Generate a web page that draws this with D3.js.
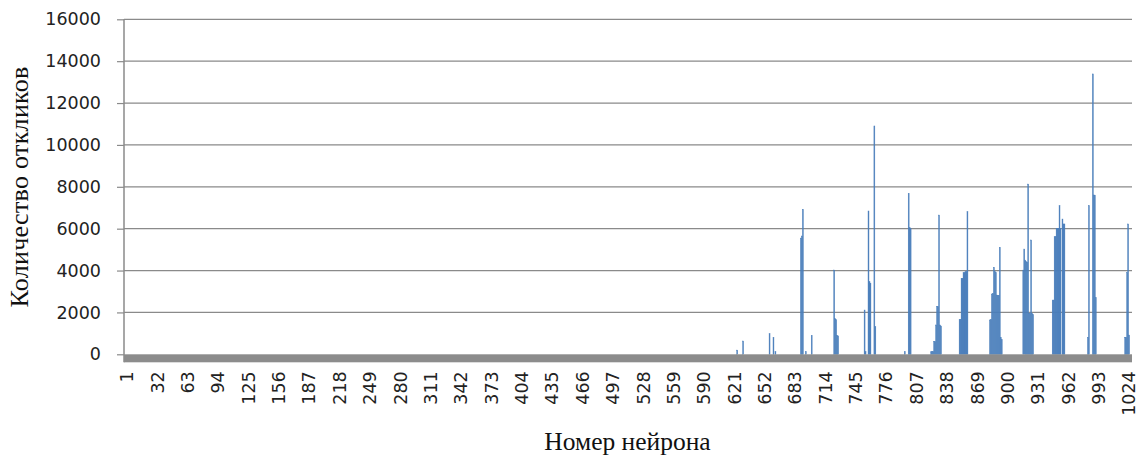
<!DOCTYPE html>
<html>
<head>
<meta charset="utf-8">
<script src="https://cdn.jsdelivr.net/npm/d3@7"></script>
<style>
  html, body { margin: 0; padding: 0; background: #fff; }
  svg { display: block; }
</style>
</head>
<body>
<svg id="chart" width="1142" height="455"></svg>
<script>
// ---- data ----
const categories = d3.range(1, 1025);            // neuron numbers 1..1024
const activeNeurons = [
  624, 630, 657, 661, 663,
  689, 690, 691, 694, 700,
  723, 724, 725, 726, 727,
  754, 755, 758, 759, 760, 764, 765,
  795, 799, 800, 801,
  822, 823, 824, 825, 826, 827, 828, 829, 830, 831, 832,
  851, 852, 853, 854, 855, 856, 857, 858, 859,
  882, 883, 884, 885, 886, 887, 888, 889, 890, 891, 892, 893, 894,
  916, 917, 918, 919, 920, 921, 922, 923, 924, 925, 926,
  946, 947, 948, 949, 950, 951, 952, 953, 954, 956, 957, 958,
  982, 983, 987, 988, 989, 990,
  1020, 1021, 1022, 1023, 1024
];
const responseCounts = [
  200, 635, 985, 810, 130,
  5550, 5650, 6925, 125, 905,
  4025, 1700, 1650, 900, 880,
  2115, 125, 6845, 3470, 3400, 10905, 1320,
  125, 7690, 6045, 6000,
  120, 130, 130, 600, 600, 1400, 2275, 2275, 6650, 1400, 1350,
  1670, 1670, 3630, 3630, 3900, 3900, 3945, 3945, 6810,
  1640, 1650, 2880, 2900, 4155, 3950, 3900, 2830, 2800, 2800, 5110, 810, 700,
  4025, 5030, 4500, 4425, 4400, 8130, 1960, 1960, 5460, 1960, 1900,
  2590, 2590, 5615, 5615, 6015, 6015, 6015, 7100, 6015, 6460, 6225, 6225,
  810, 7100, 13390, 7610, 7600, 2705,
  810, 810, 3900, 6225, 920
];
const xTickLabels = [1, 32, 63, 94, 125, 156, 187, 218, 249, 280, 311, 342, 373, 404, 435,
  466, 497, 528, 559, 590, 621, 652, 683, 714, 745, 776, 807, 838, 869, 900, 931, 962, 993, 1024];
const yTicks = [0, 2000, 4000, 6000, 8000, 10000, 12000, 14000, 16000];
const xTitle = "Номер нейрона";
const yTitle = "Количество откликов";

// ---- chart ----
const svg = d3.select("#chart");
const plotLeft = 124, plotRight = 1132, plotTop = 19.3, plotBottom = 354.3;

const x = d3.scaleBand().domain(categories).range([plotLeft, plotRight])
  .paddingInner(0.05).paddingOuter(2.5);
const y = d3.scaleLinear().domain([0, 16000]).range([plotBottom, plotTop]);

const gridColor = "#8a8a8a";

// gridlines
svg.append("g").selectAll("line").data(yTicks.filter(d => d > 0)).join("line")
  .attr("x1", plotLeft).attr("x2", plotRight)
  .attr("y1", d => y(d)).attr("y2", d => y(d))
  .attr("stroke", gridColor).attr("stroke-width", 1.2);

// y axis
const yAxis = d3.axisLeft(y).tickValues(yTicks).tickSize(7).tickPadding(16).tickFormat(d3.format("d"));
const gy = svg.append("g").attr("transform", `translate(${plotLeft},0)`).call(yAxis);
gy.select(".domain").attr("stroke", gridColor).attr("stroke-width", 1.5)
  .attr("d", `M0,${plotTop}V${plotBottom + 8}`);
gy.selectAll(".tick line").attr("stroke", gridColor).attr("stroke-width", 1.2);
gy.selectAll(".tick text").attr("fill", "#222")
  .style("font-family", "'DejaVu Sans', sans-serif").style("font-size", "17.5px");

// bars
const barColor = "#4a7ebb";
const barData = activeNeurons.map((n, i) => ({ n, v: responseCounts[i] }));
svg.append("g").selectAll("rect").data(barData).join("rect")
  .attr("x", d => x(d.n)).attr("width", x.bandwidth())
  .attr("y", d => y(d.v)).attr("height", d => y(0) - y(d.v))
  .attr("fill", barColor)
  .attr("stroke", barColor).attr("stroke-width", 0.45);

// gray floor band
svg.append("rect")
  .attr("x", plotLeft).attr("width", plotRight - plotLeft)
  .attr("y", y(0)).attr("height", 8)
  .attr("fill", "#8c8c8c");

// x axis labels
const xAxis = d3.axisBottom(x).tickValues(xTickLabels).tickSize(0).tickPadding(0);
const gx = svg.append("g").attr("transform", `translate(0,${y(0) + 17})`).call(xAxis);
gx.select(".domain").remove();
gx.selectAll(".tick text")
  .attr("transform", "rotate(-90)")
  .attr("text-anchor", "end")
  .attr("x", 0).attr("y", 0).attr("dy", "0.36em")
  .attr("fill", "#222")
  .style("font-family", "'DejaVu Sans', sans-serif").style("font-size", "17.5px");

// axis titles
svg.append("text")
  .attr("x", 627.5).attr("y", 450)
  .attr("text-anchor", "middle")
  .attr("fill", "#111")
  .style("font-family", "'Liberation Serif', 'Times New Roman', serif").style("font-size", "25.5px")
  .text(xTitle);

svg.append("text")
  .attr("transform", `translate(28,187) rotate(-90)`)
  .attr("text-anchor", "middle")
  .attr("fill", "#111")
  .style("font-family", "'Liberation Serif', 'Times New Roman', serif").style("font-size", "26px")
  .style("letter-spacing", "0.3px")
  .text(yTitle);
</script>
</body>
</html>
